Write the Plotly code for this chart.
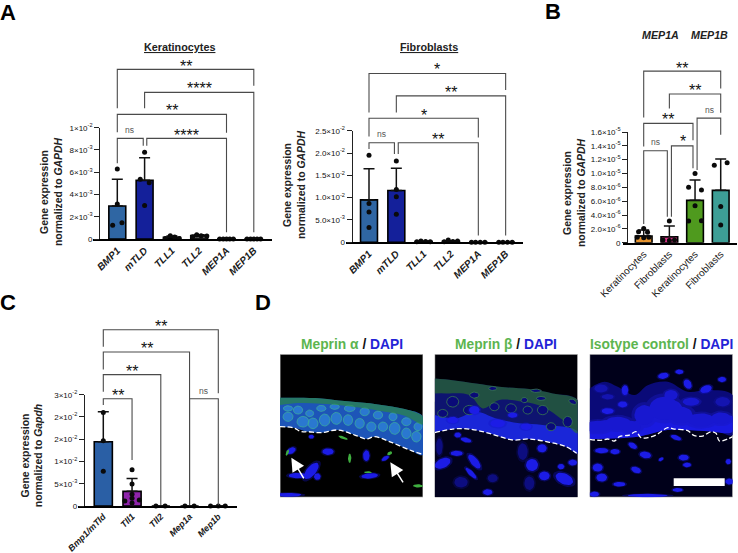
import numpy as np
import plotly.graph_objects as go

W, H = 738, 553
FONT = "Liberation Sans"
LINE = "#4a4a4a"

# Panel A, keratinocytes (values in units of 1e-3)
A1_GENES = ["BMP1", "mTLD", "TLL1", "TLL2", "MEP1A", "MEP1B"]
A1_MEANS = [2.96, 5.27, 0.15, 0.3, 0.01, 0.01]
A1_ERR = [2.4, 2.03, 0.12, 0.08, 0.0, 0.0]
A1_DX = [0, 0, -0.17, 0.17, 0, -0.16, 0.17, 0, -0.24, -0.06, 0.1, 0.27, -0.24, -0.09, 0.07, 0.28,
         -0.25, -0.12, 0, 0.12, 0.25, -0.25, -0.12, 0, 0.12, 0.25]
A1_GROUP = [0, 0, 0, 0, 1, 1, 1, 1, 2, 2, 2, 2, 3, 3, 3, 3, 4, 4, 4, 4, 4, 5, 5, 5, 5, 5]
A1_VALS = [6.3, 3.14, 1.23, 1.47, 7.8, 5.36, 5.06, 3.0, 0.05, 0.3, 0.17, 0.05, 0.2, 0.38, 0.3, 0.28,
           0, 0, 0, 0, 0, 0, 0, 0, 0, 0]
A1_BRACKETS = [(0, 5, 15.24, 11.74, 13.77), (1, 5, 13.17, 11.74, 0.6), (0, 4, 11.2, 9.58, 9.55),
               (0, 0.95, 9.04, 6.8, 8.38), (1.08, 4, 9.04, 8.38, 0.6)]
A1_LABELS = [(2.51, 15.87, "**"), (3.0, 13.9, "****"), (2.01, 11.89, "**"), (0.46, 9.79, "ns"), (2.55, 9.7, "****")]
A1_TICKS = [0, 2, 4, 6, 8, 10]
A1_TICKTEXT = ["0", "2×10<sup>-3</sup>", "4×10<sup>-3</sup>", "6×10<sup>-3</sup>", "8×10<sup>-3</sup>", "1×10<sup>-2</sup>"]

# Panel A, fibroblasts (units of 1e-3)
A2_MEANS = [9.5, 11.6, 0.15, 0.25, 0.01, 0.01]
A2_ERR = [7.0, 5.0, 0.08, 0.12, 0.0, 0.0]
A2_DX = [0, 0, 0, 0, 0, 0, 0, 0, -0.25, -0.1, 0.07, 0.24, -0.25, -0.1, 0.07, 0.24,
         -0.25, -0.1, 0.07, 0.24, -0.25, -0.1, 0.07, 0.24]
A2_GROUP = [0, 0, 0, 0, 1, 1, 1, 1, 2, 2, 2, 2, 3, 3, 3, 3, 4, 4, 4, 4, 5, 5, 5, 5]
A2_VALS = [19.5, 8.7, 6.8, 3.3, 18.2, 11.8, 10.2, 6.3, 0.1, 0.3, 0.2, 0.1, 0.1, 0.5, 0.2, 0.3,
           0, 0, 0, 0, 0, 0, 0, 0]
A2_BRACKETS = [(0, 5, 37.8, 29.1, 34.1), (1, 5, 32.8, 29.1, 1.5), (0, 4, 27.8, 23.7, 23.5),
               (0, 0.93, 22.3, 20.9, 19.8), (1.07, 4, 22.3, 19.8, 1.5)]
A2_LABELS = [(2.5, 39.5, "*"), (3.0, 34.5, "**"), (2.0, 29.4, "*"), (0.44, 24.3, "ns"), (2.54, 24.0, "**")]
A2_TICKS = [0, 5, 10, 15, 20, 25]
A2_TICKTEXT = ["0", "5.0×10<sup>-3</sup>", "1.0×10<sup>-2</sup>", "1.5×10<sup>-2</sup>", "2.0×10<sup>-2</sup>", "2.5×10<sup>-2</sup>"]

# Panel B (units of 1e-6)
B_CATS = ["Keratinocytes", "Fibroblasts", "Keratinocytes", "Fibroblasts"]
B_MEANS = [0.96, 0.87, 6.12, 7.57]
B_ERR = [0.87, 1.53, 2.94, 4.53]
B_DX = [0, -0.2, 0.15, -0.25, 0, 0.2, 0, -0.25, 0, 0.2, 0, -0.25, 0.25, 0, -0.25, 0.25, -0.25, 0.25, 0, 0]
B_GROUP = [0, 0, 0, 0, 0, 0, 1, 1, 1, 1, 2, 2, 2, 2, 2, 2, 3, 3, 3, 3]
B_VALS = [2.07, 1.6, 1.5, 0.77, 0.7, 0.77, 3.13, 0.4, 0.3, 0.4, 10.0, 8.0, 7.6, 5.35, 3.13, 3.18, 11.2, 11.56, 5.25, 2.55]
B_COLORS = ["#e8952f", "#e0338c", "#4f9a1e", "#3d9e96"]
B_BRACKETS = [(0, 3, 24.8, 18.1, 22.3), (1, 3, 21.5, 19.4, 18.8), (0, 1.92, 17.25, 13.9, 14.8),
              (0, 0.92, 13.3, 2.7, 3.76), (1.08, 1.92, 14.0, 3.76, 10.75), (2.08, 3, 18.0, 10.5, 15.6)]
B_LABELS = [(1.51, 25.8, "**"), (2.0, 22.6, "**"), (0.96, 18.4, "**"), (2.56, 19.2, "ns"), (0.45, 14.5, "ns"), (1.52, 15.2, "*")]
B_TICKS = [0, 2, 4, 6, 8, 10, 12, 14, 16]
B_TICKTEXT = ["0", "2.0×10<sup>-6</sup>", "4.0×10<sup>-6</sup>", "6.0×10<sup>-6</sup>", "8.0×10<sup>-6</sup>",
              "1.0×10<sup>-5</sup>", "1.2×10<sup>-5</sup>", "1.4×10<sup>-5</sup>", "1.6×10<sup>-5</sup>"]

# Panel C (units of 1e-3)
C_GENES = ["Bmp1/mTld", "Tll1", "Tll2", "Mep1a", "Mep1b"]
C_MEANS = [17.3, 3.95, 0, 0, 0]
C_ERR = [8.1, 3.45, 0, 0, 0]
C_DX = [0, 0, 0, 0, 0, 0, 0, -0.25, 0.25, 0, -0.17, 0.15, -0.16, 0.16, -0.27, 0, 0.24]
C_GROUP = [0, 0, 0, 1, 1, 1, 1, 1, 1, 1, 2, 2, 3, 3, 4, 4, 4]
C_VALS = [25.2, 17.6, 9.4, 9.8, 5.9, 3.2, 2.1, 1.35, 1.6, 0.8, 0, 0, 0, 0, 0, 0, 0]
C_BRACKETS = [(0, 4, 47.5, 42.9, 30.4), (0, 3, 41.5, 36.8, 0.3), (0, 2, 35.4, 30.8, 0.3),
              (0, 1, 28.9, 27.2, 12.4), (3, 4, 28.9, 0.3, 0.3)]
C_LABELS = [(2.0, 49.5, "**"), (1.51, 43.4, "**"), (1.01, 37.4, "**"), (0.5, 30.9, "**"), (3.49, 31.0, "ns")]
C_TICKS = [0, 6, 12, 18, 24, 30]
C_TICKTEXT = ["0", "5×10<sup>-3</sup>", "1×10<sup>-2</sup>", "2×10<sup>-2</sup>", "2×10<sup>-2</sup>", "3×10<sup>-2</sup>"]

# Panel D micrographs: blobs are (cx, cy, rx, ry, angle) in the image's own pixel grid
M1_BAND = [(6, 138), (60, 138), (130, 140), (200, 148), (300, 158), (380, 172), (435, 195), (435, 310), (400, 297),
           (340, 272), (290, 255), (265, 262), (230, 250), (180, 235), (130, 243), (90, 240), (45, 228), (6, 225)]
M1_GREEN = [(6, 138), (60, 138), (130, 140), (200, 148), (300, 158), (380, 172), (435, 195), (435, 218), (380, 192),
            (300, 176), (200, 162), (130, 156), (60, 154), (6, 160)]
M1_CELLS = [(75, 210, 18, 16, 0), (105, 215, 15, 16, 0), (140, 205, 16, 18, 0), (175, 200, 16, 18, 0), (210, 205, 14, 16, 0),
            (245, 215, 14, 15, 0), (280, 225, 14, 14, 0), (315, 225, 14, 14, 0), (350, 230, 16, 18, 0), (385, 245, 14, 16, 0),
            (415, 255, 14, 16, 0), (60, 175, 14, 12, 0), (95, 185, 12, 10, 0), (130, 170, 14, 9, 0), (170, 165, 14, 8, 0),
            (215, 170, 16, 10, 0), (260, 180, 14, 12, 0), (300, 190, 14, 12, 0), (345, 195, 12, 12, 0), (385, 210, 14, 12, 0),
            (420, 225, 12, 12, 0), (30, 195, 15, 14, 0), (30, 170, 14, 8, 0)]
M1_NUCLEI = [(40, 297, 14, 9, -30), (150, 300, 17, 10, 0), (265, 312, 10, 16, 0), (100, 358, 30, 14, -50), (60, 372, 28, 8, 0),
             (118, 375, 10, 10, 0), (275, 373, 25, 8, -5), (322, 320, 12, 6, -30), (30, 430, 40, 6, 0), (100, 255, 8, 6, 0)]
M1_SPOTS = [(28, 303, 4, 10, 20), (215, 320, 5, 14, 0), (335, 305, 8, 5, -30), (420, 403, 15, 5, 0), (195, 258, 15, 4, 20),
            (270, 362, 12, 3, 0)]
M1_DASH = [(6, 225), (45, 228), (70, 240), (90, 240), (130, 243), (180, 235), (230, 250), (265, 262), (290, 255),
           (340, 272), (400, 297), (430, 307)]
M1_ARROWS = [(80, 385, 40, 318), (378, 397, 337, 332)]

M2_BAND = [(6, 80), (60, 85), (130, 95), (200, 105), (290, 112), (360, 125), (435, 145), (435, 305), (400, 285),
           (350, 272), (290, 262), (240, 265), (170, 245), (110, 232), (60, 232), (6, 243)]
M2_BRIGHT = [(6, 190), (70, 200), (130, 180), (190, 200), (260, 215), (330, 220), (435, 240), (435, 305), (400, 285),
             (350, 272), (290, 262), (240, 265), (170, 245), (110, 232), (60, 232), (6, 243)]
M2_GREEN = [(6, 80), (60, 85), (130, 95), (200, 105), (290, 112), (360, 125), (435, 145), (435, 245), (390, 205), (330, 165),
            (270, 150), (200, 145), (150, 170), (110, 130), (40, 125), (6, 125)]
M2_CELLS = [(60, 150, 18, 16, 0), (110, 175, 18, 14, 0), (125, 130, 14, 9, 0), (185, 165, 14, 12, 0), (235, 170, 16, 14, 0),
            (285, 175, 14, 12, 0), (330, 175, 16, 14, 0), (405, 210, 14, 16, 0), (355, 225, 14, 12, 0), (30, 185, 15, 12, 0),
            (275, 145, 10, 8, 0), (325, 140, 14, 6, 0), (420, 150, 12, 7, 25), (180, 110, 12, 6, 0), (310, 117, 16, 5, 0)]
M2_NUCLEI = [(30, 335, 25, 14, -25), (72, 305, 18, 8, 0), (125, 330, 26, 11, 50), (115, 365, 22, 7, 45), (165, 422, 14, 9, 0),
             (298, 340, 18, 18, 0), (335, 373, 16, 13, 0), (395, 382, 28, 16, 25), (385, 345, 10, 8, 0), (420, 333, 13, 9, 0),
             (328, 290, 14, 12, 0), (100, 265, 16, 7, 15), (75, 250, 10, 8, 0), (125, 175, 16, 12, 0), (60, 205, 16, 10, 0),
             (195, 215, 22, 12, 0), (280, 225, 16, 10, 0), (240, 190, 14, 8, 0)]
M2_DIM = [(85, 392, 20, 16, 0), (20, 285, 10, 25, 0), (270, 300, 15, 25, 0), (180, 380, 15, 12, 0), (290, 395, 15, 20, 0)]
M2_DASH = [(6, 243), (60, 232), (110, 232), (170, 245), (240, 265), (290, 262), (350, 272), (400, 285), (432, 305)]

M3_CLOUD = [(6, 110), (50, 90), (90, 105), (140, 130), (180, 100), (240, 90), (300, 120), (360, 115), (435, 130), (435, 250),
            (390, 240), (240, 235), (150, 255), (6, 262)]
M3_BRIGHT = [(6, 215), (60, 205), (130, 215), (170, 185), (220, 160), (270, 150), (300, 190), (360, 200), (435, 195), (435, 240),
             (350, 238), (240, 235), (150, 255), (6, 262)]
M3_GLOW = [(90, 215, 40, 20, 0), (30, 225, 40, 18, 0), (170, 190, 30, 30, 0), (230, 170, 45, 35, 0), (280, 190, 35, 25, 0),
           (340, 205, 40, 20, 0), (400, 200, 30, 18, 0), (250, 130, 20, 15, 0), (130, 225, 30, 18, 0), (310, 150, 25, 12, 0)]
M3_NUCLEI = [(227, 72, 16, 9, -10), (275, 60, 12, 7, 0), (300, 97, 11, 15, -30), (355, 112, 18, 11, -20), (403, 83, 12, 8, 0),
             (112, 115, 10, 15, 0), (105, 158, 14, 9, 0), (60, 178, 18, 9, 0), (42, 297, 20, 8, 0), (82, 300, 14, 8, 0),
             (135, 282, 14, 8, 30), (173, 310, 17, 10, 10), (220, 323, 8, 5, -30), (288, 318, 15, 9, 0), (298, 340, 12, 7, 0),
             (30, 348, 15, 12, 0), (42, 378, 16, 12, 0), (145, 355, 15, 9, 20), (95, 398, 18, 7, 0), (265, 258, 16, 7, 20),
             (270, 415, 15, 6, 0), (20, 428, 14, 8, 0), (180, 432, 60, 5, 0), (425, 390, 12, 9, 0), (422, 330, 8, 8, 0)]
M3_DIM = [(40, 110, 20, 12, 0), (60, 135, 18, 8, 0), (405, 150, 22, 14, 0)]
M3_DASH = [(6, 263), (40, 266), (60, 262), (80, 268), (95, 255), (125, 250), (145, 240), (160, 258), (180, 258), (205, 250),
           (220, 240), (240, 228), (260, 232), (300, 237), (320, 252), (345, 253), (370, 240), (385, 245), (395, 268), (420, 262),
           (435, 255)]
M3_SCALE = (258, 380, 411, 403)

fig = go.Figure()
layout = dict(width=W, height=H, autosize=False, margin=dict(l=0, r=0, t=0, b=0, autoexpand=False), paper_bgcolor="white",
              plot_bgcolor="rgba(0,0,0,0)", showlegend=False, shapes=[], annotations=[],
              font=dict(family=FONT, color="#222222"))


def note(text, px, py, size=9, color="#222222", angle=0, **kw):
    layout["annotations"].append(dict(text=text, x=px / W, y=1 - py / H, xref="paper", yref="paper", showarrow=False,
                                      font=dict(size=size, color=color, family=FONT), textangle=angle,
                                      xanchor="center", yanchor="middle", **kw))


def bar_panel(n, x0_px, spacing, x_left, x_right, y_axis_px, y0_px, ytop_px, ymax, names, means, errs, colors,
              dx, group, vals, brackets, labels, ticks, ticktext, bar_w, italic=True, over_px=10, cat_size=10):
    xa, ya, yb = f"x{n}", f"y{n}", f"y{n + 10}"
    layout[f"xaxis{n}"] = dict(domain=[x_left / W, x_right / W], anchor=ya, automargin=False,
                               range=[(x_left - x0_px) / spacing, (x_right - x0_px) / spacing],
                               tickvals=list(range(len(names))),
                               ticktext=[f"<b><i>{c}</i></b>" if italic else c for c in names],
                               tickangle=-45, ticks="", showgrid=False, zeroline=False, showline=True,
                               linecolor="black", linewidth=1.6,
                               tickfont=dict(size=cat_size, color="#1a1a1a", family=FONT))
    layout[f"yaxis{n}"] = dict(domain=[1 - y0_px / H, 1 - ytop_px / H], anchor="free", automargin=False,
                               position=y_axis_px / W, range=[0, ymax], tickvals=ticks, ticktext=ticktext,
                               ticks="outside", ticklen=5, tickwidth=1.3, tickcolor="#222222", showgrid=False,
                               zeroline=False, showline=True, linecolor="#222222", linewidth=1.3,
                               tickfont=dict(size=8, color="#111111", family=FONT))
    # brackets sit on a taller twin of the y axis, so that they are not clipped above the top tick
    scale = (y0_px - over_px) / (y0_px - ytop_px)
    layout[f"yaxis{n + 10}"] = dict(domain=[1 - y0_px / H, 1 - over_px / H], anchor=xa, automargin=False,
                                    range=[0, ymax * scale], visible=False)
    fig.add_trace(go.Bar(x=list(range(len(names))), y=means, width=bar_w, marker=dict(color=colors, line=dict(color="black", width=1.6)),
                         error_y=dict(type="data", symmetric=False, array=errs, arrayminus=[0] * len(errs),
                                      color="#111111", thickness=1.5, width=5.5),
                         xaxis=xa, yaxis=ya, hoverinfo="skip"))
    fig.add_trace(go.Scatter(x=[g + d for g, d in zip(group, dx)], y=vals, mode="markers", cliponaxis=False,
                             marker=dict(color="#0a0a0a", size=5), xaxis=xa, yaxis=ya, hoverinfo="skip"))
    for b in brackets:
        bx0, bx1, top, left_end, right_end = b
        fig.add_trace(go.Scatter(x=[bx0, bx0, bx1, bx1], y=[left_end, top, top, right_end], mode="lines",
                                 line=dict(color=LINE, width=1.1), xaxis=xa, yaxis=yb, hoverinfo="skip"))
    for lx, ly, text in labels:
        is_ns = text == "ns"
        layout["annotations"].append(dict(text=text, x=lx, y=ly, xref=xa, yref=yb, showarrow=False, xanchor="center",
                                          yanchor="middle", yshift=0 if is_ns else -4,
                                          font=dict(size=8.5 if is_ns else 16, family=FONT, color="#555555" if is_ns else "#111111")))


def blobs(spots, grow=1.0):
    # rotated ellipses joined into one trace, separated by gaps
    t = np.linspace(0, 2 * np.pi, 25)
    xs, ys = [], []
    for cx, cy, rx, ry, ang in spots:
        a = np.radians(ang)
        ex, ey = rx * grow * np.cos(t), ry * grow * np.sin(t)
        xs += list(cx + ex * np.cos(a) - ey * np.sin(a)) + [None]
        ys += list(cy + ex * np.sin(a) + ey * np.cos(a)) + [None]
    return xs, ys


def add_blobs(n, spots, color, soft=None, line=None):
    if soft:
        xs, ys = blobs(spots, 1.3)
        fig.add_trace(go.Scatter(x=xs, y=ys, mode="lines", fill="toself", fillcolor=soft, line=dict(width=0),
                                 xaxis=f"x{n}", yaxis=f"y{n}", hoverinfo="skip"))
    xs, ys = blobs(spots)
    fig.add_trace(go.Scatter(x=xs, y=ys, mode="lines", fill="toself", fillcolor=color,
                             line=dict(width=0.8 if line else 0, color=line or color),
                             xaxis=f"x{n}", yaxis=f"y{n}", hoverinfo="skip"))


def add_poly(n, pts, color):
    fig.add_trace(go.Scatter(x=[p[0] for p in pts], y=[p[1] for p in pts], mode="lines", fill="toself", fillcolor=color,
                             line=dict(width=0, shape="spline"), xaxis=f"x{n}", yaxis=f"y{n}", hoverinfo="skip"))


def image_panel(n, left, bg):
    layout[f"xaxis{n}"] = dict(domain=[left / W, (left + 143) / W], range=[6, 435], visible=False, anchor=f"y{n}", automargin=False)
    layout[f"yaxis{n}"] = dict(domain=[1 - 497.2 / H, 1 - 354.2 / H], range=[437, 7], visible=False, anchor=f"x{n}", automargin=False)
    layout["shapes"].append(dict(type="rect", xref=f"x{n}", yref=f"y{n}", x0=6, x1=435, y0=7, y1=437, layer="below",
                                 fillcolor=bg, line=dict(color="#b4b4b4", width=1)))


def dash_line(n, pts):
    fig.add_trace(go.Scatter(x=[p[0] for p in pts], y=[p[1] for p in pts], mode="lines",
                             line=dict(color="white", width=1.3, dash="5px,2.5px", shape="spline"),
                             xaxis=f"x{n}", yaxis=f"y{n}", hoverinfo="skip"))


# Bar panels
GREY = "#5a5a5a"
bar_panel(1, 117.3, 27.3, 93, 272, 99.3, 239, 127.7, 10, A1_GENES, A1_MEANS, A1_ERR,
          ["#2f66a3", "#14209a", GREY, GREY, GREY, GREY], A1_DX, A1_GROUP, A1_VALS, A1_BRACKETS,
          A1_LABELS, A1_TICKS, A1_TICKTEXT, 0.62)
bar_panel(2, 369, 27.33, 346, 523.3, 351.7, 242.3, 130.7, 25, A1_GENES, A2_MEANS, A2_ERR,
          ["#2f66a3", "#14209a", GREY, GREY, GREY, GREY], A2_DX, A2_GROUP, A2_VALS, A2_BRACKETS,
          A2_LABELS, A2_TICKS, A2_TICKTEXT, 0.62)
bar_panel(3, 643.7, 25.67, 622.7, 736.7, 627.3, 242.7, 132, 16, B_CATS, B_MEANS, B_ERR, B_COLORS, B_DX, B_GROUP, B_VALS,
          B_BRACKETS, B_LABELS, B_TICKS, B_TICKTEXT, 0.65, italic=False)
bar_panel(4, 103.3, 28.75, 78, 237, 84, 506, 394.7, 30, C_GENES, C_MEANS, C_ERR,
          ["#2a5fa5", "#8e24aa", GREY, GREY, GREY], C_DX, C_GROUP, C_VALS, C_BRACKETS, C_LABELS, C_TICKS,
          C_TICKTEXT, 0.63, over_px=310, cat_size=9)

# Micrographs
BLUE, DIM = "#1c1ce6", "#0d0d80"
image_panel(5, 280, "#000000")
add_poly(5, M1_BAND, "#1d55b8")
add_blobs(5, M1_CELLS, "#2a78d0", line="#3aa8a0")
add_poly(5, M1_GREEN, "rgba(45,140,60,0.65)")
add_blobs(5, M1_NUCLEI, BLUE, soft="rgba(20,20,200,0.35)")
add_blobs(5, M1_SPOTS, "#3fae3f")
dash_line(5, M1_DASH)
for tx, ty, hx, hy in M1_ARROWS:
    layout["annotations"].append(dict(x=hx, y=hy, ax=tx, ay=ty, xref="x5", yref="y5", axref="x5", ayref="y5", text="",
                                      showarrow=True, arrowcolor="white", arrowwidth=1.5, arrowhead=2, arrowsize=1.8))

image_panel(6, 434.7, "#000006")
fig.add_trace(go.Scatter(x=[6, 435, 435, 6], y=[150, 150, 437, 437], mode="lines", fill="toself", fillcolor="#02021e",
                         line=dict(width=0), xaxis="x6", yaxis="y6", hoverinfo="skip"))
add_poly(6, M2_BAND, "#0e1470")
add_poly(6, M2_BRIGHT, "#1a26d8")
add_poly(6, M2_GREEN, "rgba(50,130,30,0.55)")
add_blobs(6, M2_CELLS, "#0a0a78", line="#3a7a50")
add_blobs(6, M2_DIM, DIM, soft="rgba(14,14,120,0.35)")
add_blobs(6, M2_NUCLEI, BLUE, soft="rgba(20,20,200,0.35)")
dash_line(6, M2_DASH)

image_panel(7, 589.7, "#00001a")
add_poly(7, M3_CLOUD, "#0a0a78")
add_poly(7, M3_BRIGHT, "#1a1ae0")
add_blobs(7, M3_GLOW, "#1818d0", soft="rgba(24,24,190,0.4)")
add_blobs(7, M3_DIM, "#1414b0", soft="rgba(14,14,150,0.4)")
add_blobs(7, M3_NUCLEI, BLUE, soft="rgba(20,20,200,0.35)")
dash_line(7, M3_DASH)
layout["shapes"].append(dict(type="rect", xref="x7", yref="y7", x0=M3_SCALE[0], y0=M3_SCALE[1], x1=M3_SCALE[2], y1=M3_SCALE[3],
                             fillcolor="white", line=dict(width=0), layer="above"))

# Text
for letter, lx, ly in [("A", 8, 12), ("B", 553, 11), ("C", 8, 302), ("D", 263, 302)]:
    note(f"<b>{letter}</b>", lx, ly, size=22, color="black")
note("<b><u>Keratinocytes</u></b>", 179, 46.7, size=10.8)
note("<b><u>Fibroblasts</u></b>", 429, 46.7, size=10.8)
note("<b><i>MEP1A</i></b>", 660, 34.7, size=10.7)
note("<b><i>MEP1B</i></b>", 709.3, 34.7, size=10.7)
note("<b>Gene expression<br>normalized to <i>GAPDH</i></b>", 52, 192, size=10.4, angle=-90)
note("<b>Gene expression<br>normalized to <i>GAPDH</i></b>", 294, 185, size=10.4, angle=-90)
note("<b>Gene expression<br>normalized to <i>GAPDH</i></b>", 574, 193, size=10.4, angle=-90)
note("<b>Gene expression<br>normalized to <i>Gapdh</i></b>", 32.5, 455.7, size=10.4, angle=-90)

GREEN_T, BLUE_T = "#5cb54f", "#2323d6"
for left, right, cx in [("Meprin α", "DAPI", 351.7), ("Meprin β", "DAPI", 505.5), ("Isotype control", "DAPI", 661)]:
    note(f"<b><span style='color:{GREEN_T}'>{left}</span> / <span style='color:{BLUE_T}'>{right}</span></b>", cx, 345, size=13.8, color="#111111")

fig.update_layout(**layout)
# the page's default body margin would push the 738x553 figure out of the window
fig.write_html("out.html", config={"displayModeBar": False},
               post_script="document.body.style.margin='0';document.body.style.overflow='hidden';")
